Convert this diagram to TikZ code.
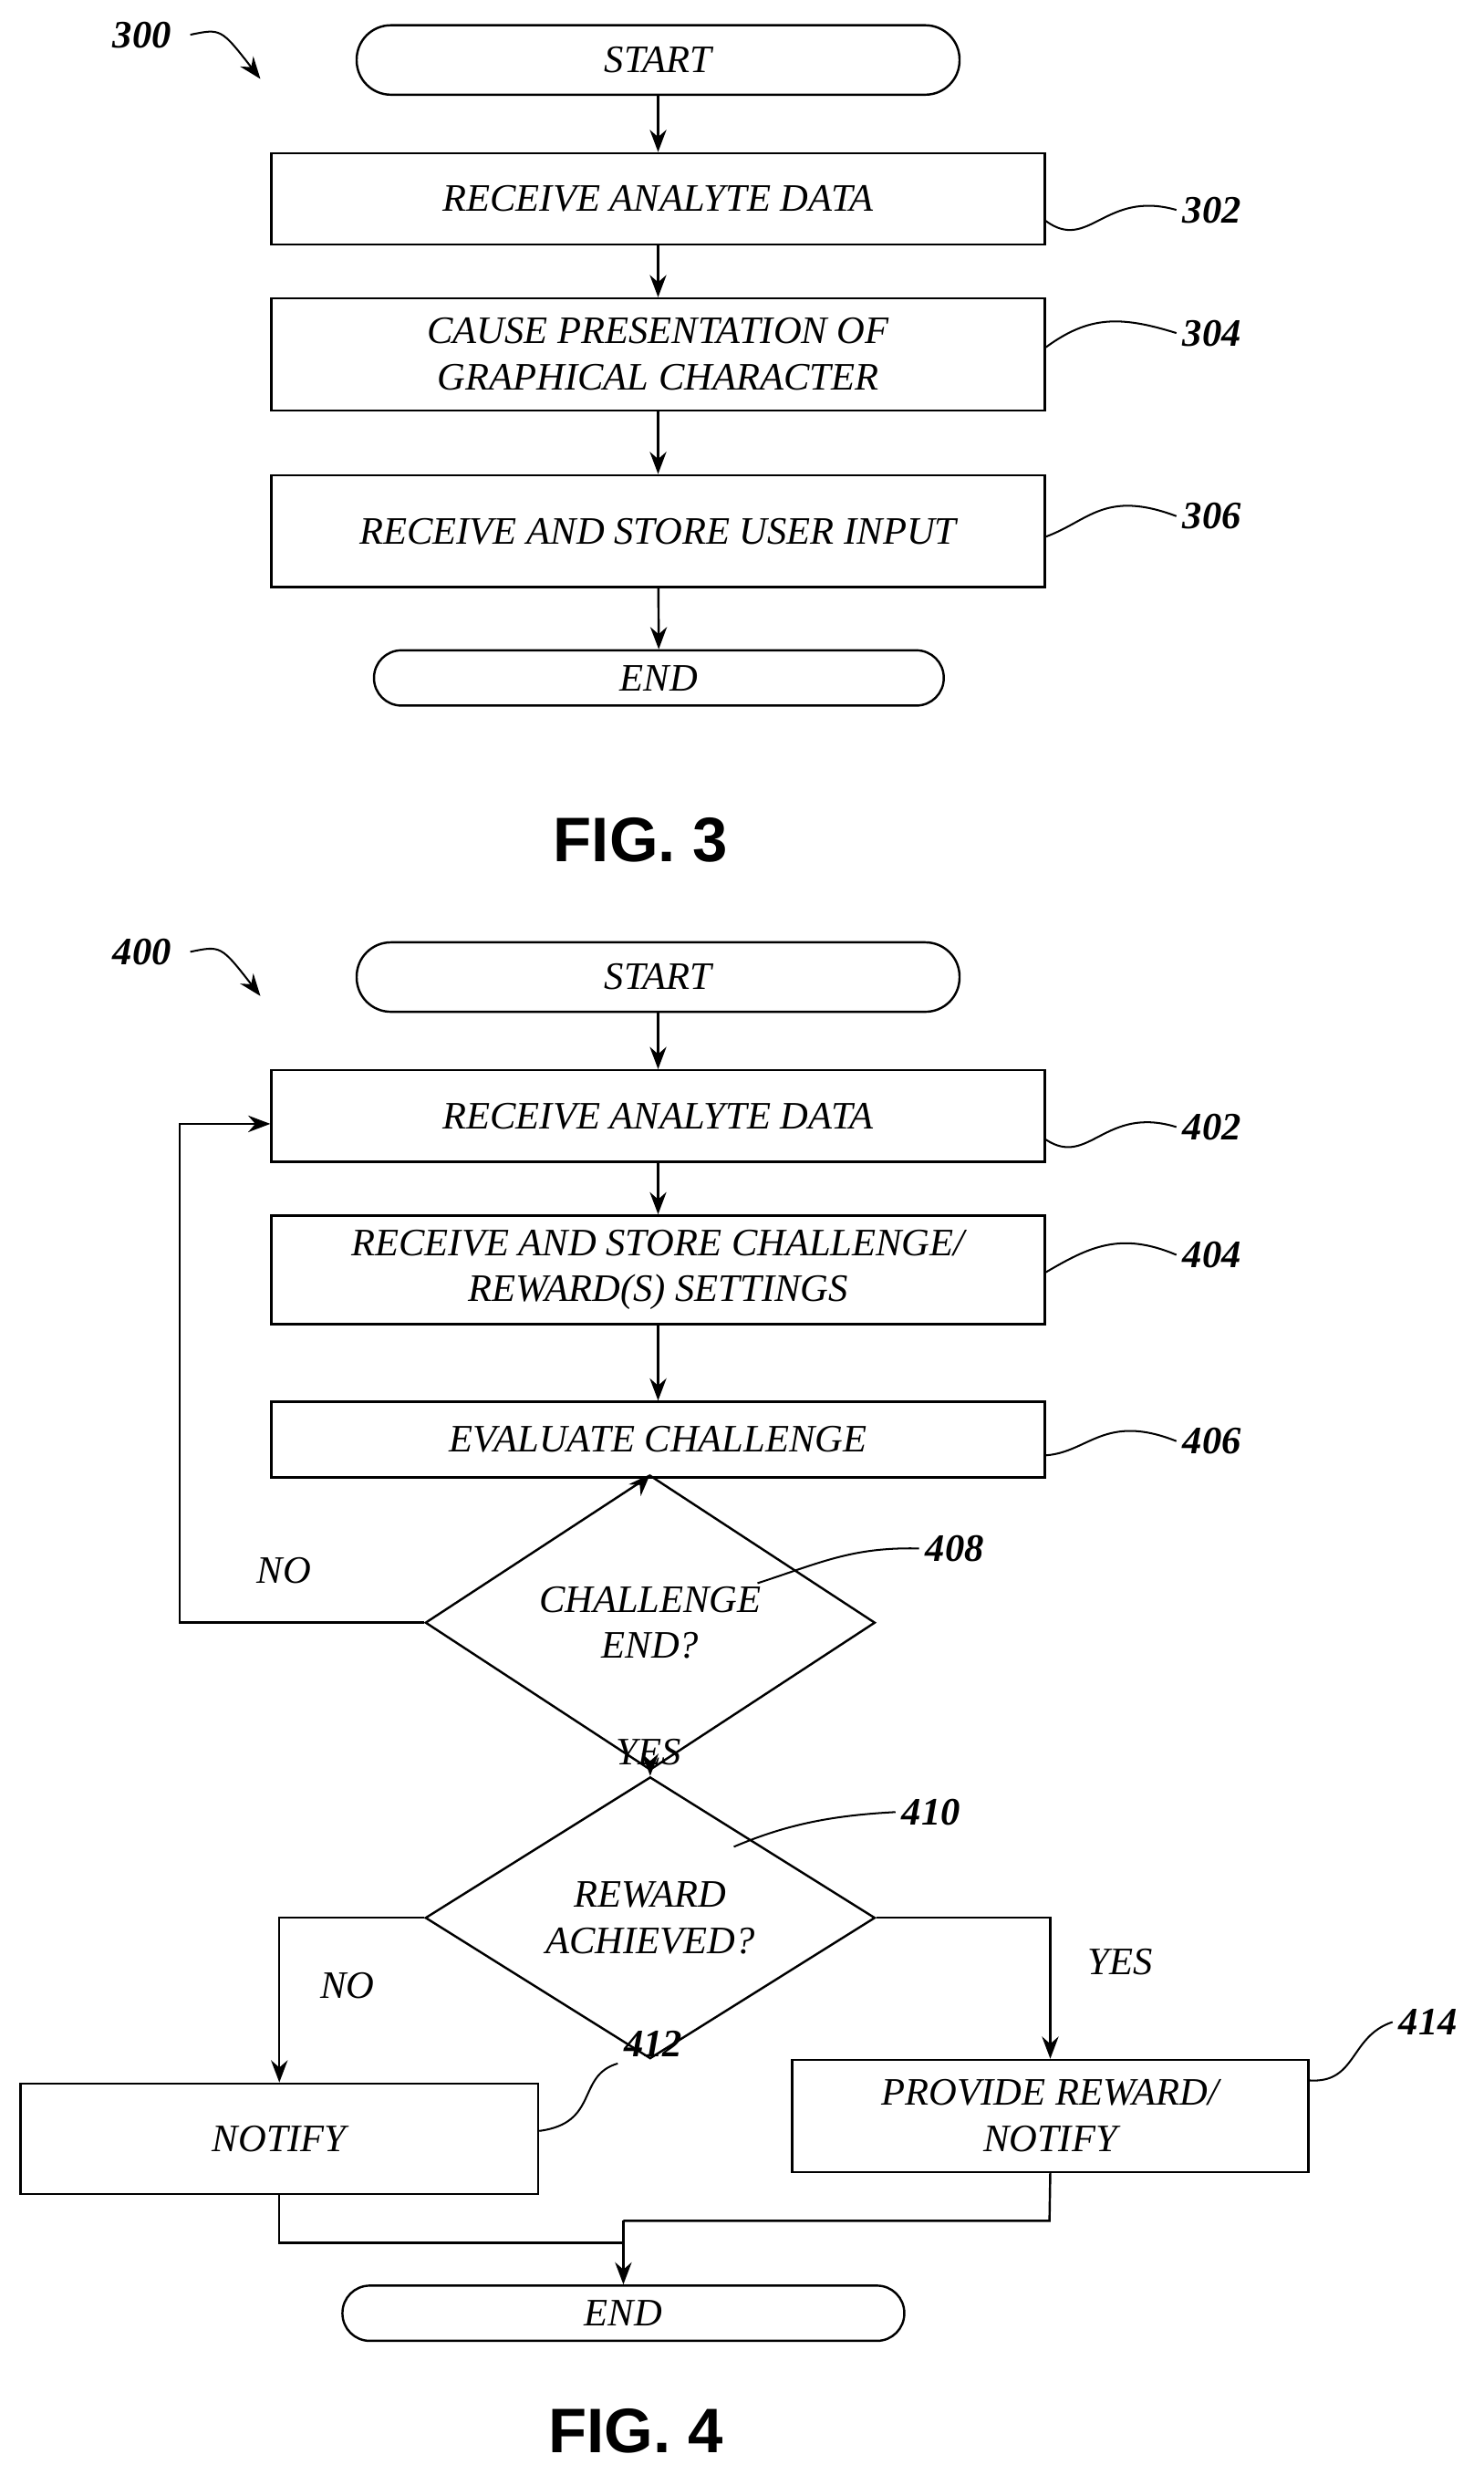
\documentclass[tikz,border=0pt]{standalone}
\usepackage{fontspec}
\setmainfont{Liberation Serif}
\setsansfont{Liberation Sans}
\usetikzlibrary{shapes.geometric,arrows.meta}
\begin{document}
\begin{tikzpicture}[x=0.03cm,y=-0.03cm,
  every node/.style={font=\fontsize{21}{25}\selectfont\itshape},
  box/.style={draw,line width=1.2pt,rectangle,inner sep=0pt,align=center,minimum width=14.7cm},
  term/.style={draw,line width=1.2pt,rounded corners=0.65cm,inner sep=0pt,minimum height=1.32cm},
  dia/.style={draw,line width=1.2pt,diamond,inner sep=0pt,align=center},
  arr/.style={line width=1.2pt,-{Stealth[length=12pt,width=9pt]}},
  ln/.style={line width=1.2pt},
  sq/.style={line width=1pt},
  lab/.style={font=\fontsize{21}{25}\selectfont\itshape\bfseries},
  fig/.style={font=\fontsize{34}{40}\selectfont\sffamily\bfseries}]
\useasboundingbox (0,0) rectangle (940,1568);
% FIG 3
\node[lab] (l300) at (90,22) {300};
\coordinate (a300) at (165,50);
\draw[arr,line width=1pt] (l300.east) ++(8,0) .. controls (140,18) .. (a300);
\node[term,minimum width=11.46cm] (s3) at (417,38) {START};
\node[box,minimum height=1.74cm] (b302) at (417,126) {RECEIVE ANALYTE DATA};
\node[box,minimum height=2.13cm] (b304) at (417,224.5) {CAUSE PRESENTATION OF\\GRAPHICAL CHARACTER};
\node[box,minimum height=2.13cm] (b306) at (417,336.5) {RECEIVE AND STORE USER INPUT};
\node[term,minimum width=10.83cm,minimum height=1.05cm,rounded corners=0.52cm] (e3) at (417.5,429.5) {END};
\draw[arr] (s3) -- (b302);
\draw[arr] (b302) -- (b304);
\draw[arr] (b304) -- (b306);
\draw[arr] (b306) -- (e3);
\node[lab] (l302) at (768,133) {302};
\node[lab] (l304) at (768,211) {304};
\node[lab] (l306) at (768,327) {306};
\draw[sq] (b302.east |- 0,140) .. controls (690,160) and (700,120) .. (l302.west);
\draw[sq] (b304.east |- 0,220) .. controls (690,200) and (710,200) .. (l304.west);
\draw[sq] (b306.east |- 0,340) .. controls (690,330) and (700,310) .. (l306.west);
\node[fig] (f3) at (406,532) {FIG. 3};
% FIG 4
\node[lab] (l400) at (90,603) {400};
\coordinate (a400) at (165,631);
\draw[arr,line width=1pt] (l400.east) ++(8,0) .. controls (140,599) .. (a400);
\node[term,minimum width=11.46cm] (s4) at (417,619) {START};
\node[box,minimum height=1.74cm] (b402) at (417,707) {RECEIVE ANALYTE DATA};
\node[box,minimum height=2.07cm] (b404) at (417,804.5) {RECEIVE AND STORE CHALLENGE/\\REWARD(S) SETTINGS};
\node[box,minimum height=1.44cm] (b406) at (417,912) {EVALUATE CHALLENGE};
\node[dia,minimum width=8.55cm,minimum height=2.79cm] (d408) at (412,1028) {CHALLENGE\\END?};
\node[dia,minimum width=8.55cm,minimum height=4.02cm] (d410) at (412,1215) {REWARD\\ACHIEVED?};
\node[box,minimum width=9.84cm,minimum height=2.1cm] (b412) at (177,1355) {NOTIFY};
\node[box,minimum width=9.81cm,minimum height=2.13cm] (b414) at (665.5,1340.5) {PROVIDE REWARD/\\NOTIFY};
\node[term,minimum width=10.68cm,minimum height=1.05cm,rounded corners=0.52cm] (e4) at (395,1465.5) {END};
\draw[arr] (s4) -- (b402);
\draw[arr] (b402) -- (b404);
\draw[arr] (b404) -- (b406);
\draw[arr] (410,936) -- (d408.north);
\draw[arr] (d408.west) -- (114,1028) -- (114,712) -- (b402.west |- 0,712);
\node (no1) at (180,995) {NO};
\draw[arr] (d408.south) -- (d410.north);
\node (yes1) at (411,1110) {YES};
\draw[arr] (d410.west) -| (b412.north);
\node (no2) at (220,1258) {NO};
\draw[arr] (d410.east) -| (b414.north);
\node (yes2) at (710,1243) {YES};
\coordinate (m) at (395,1407);
\draw[ln] (b412.south) -- (177,1421) -- (395,1421);
\draw[ln] (b414.south) -- (665,1407) -- (m);
\draw[arr] (m) -- (e4.north);
\node[lab] (l402) at (768,714) {402};
\node[lab] (l404) at (768,795) {404};
\node[lab] (l406) at (768,913) {406};
\node[lab] (l408) at (605,981) {408};
\node[lab] (l410) at (590,1148) {410};
\node[lab] (l412) at (414,1295) {412};
\node[lab] (l414) at (905,1281) {414};
\draw[sq] (b402.east |- 0,722) .. controls (690,740) and (700,700) .. (l402.west);
\draw[sq] (b404.east |- 0,806) .. controls (690,790) and (710,780) .. (l404.west);
\draw[sq] (b406.east |- 0,922) .. controls (690,920) and (700,895) .. (l406.west);
\draw[sq] (480,1003) .. controls (520,990) and (540,980) .. (l408.west);
\draw[sq] (465,1170) .. controls (500,1155) and (530,1150) .. (l410.west);
\draw[sq] (b412.east |- 0,1350) .. controls (380,1345) and (365,1315) .. (l412.south west);
\draw[sq] (b414.east |- 0,1318) .. controls (860,1320) and (855,1290) .. (l414.west);
\node[fig] (f4) at (403,1540) {FIG. 4};
\end{tikzpicture}
\end{document}
